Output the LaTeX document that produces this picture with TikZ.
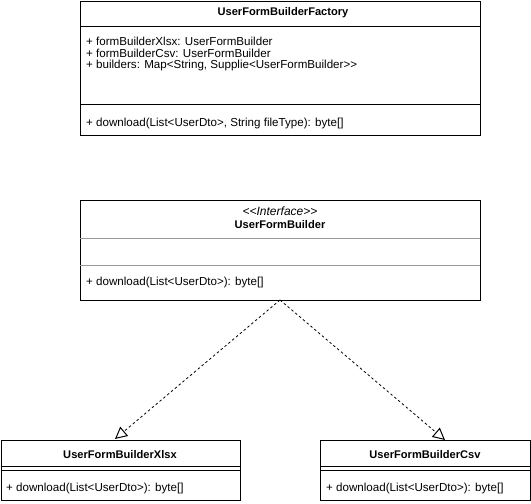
\documentclass[tikz,border=0pt]{standalone}
\usepackage{fontspec}
\setmainfont{Liberation Sans}[Ligatures=TeXOff]
\usetikzlibrary{arrows.meta}
\begin{document}
\begin{tikzpicture}[x=1pt,y=-1pt,
  box/.style={draw=black, line width=1pt, rectangle, inner sep=0pt, anchor=north west},
  title/.style={font=\fontsize{11.1}{13}\selectfont\bfseries, inner sep=0pt},
  stereo/.style={font=\fontsize{12}{14}\selectfont\itshape, inner sep=0pt},
  member/.style={font=\fontsize{11.6}{13}\selectfont, inner sep=0pt, anchor=west},
  sep/.style={line width=1pt, draw=black},
  lightsep/.style={line width=1pt, draw=black!40},
  realize/.style={line width=0.8pt, dash pattern=on 2.5pt off 2.5pt,
    -{Triangle[open, length=12pt, width=12pt, line width=1pt]}}
]
\useasboundingbox (0,0) rectangle (531,504);

% UserFormBuilderFactory
\node[box, minimum width=400pt, minimum height=134pt] (factory) at (80,0.5) {};
\node[title] (factoryname) at (283,13) {UserFormBuilderFactory};
\draw[sep] (80,26) -- (480,26);
\node[member] (fattr1) at (86,41) {+ formBuilderXlsx: UserFormBuilder};
\node[member] (fattr2) at (86,53) {+ formBuilderCsv: UserFormBuilder};
\node[member] (fattr3) at (86,65) {+ builders: Map<String, Supplie<UserFormBuilder>>};
\draw[sep] (80,104) -- (480,104);
\node[member] (fop) at (86,123) {+ download(List<UserDto>, String fileType): byte[]};

% UserFormBuilder interface
\node[box, minimum width=400pt, minimum height=100pt] (iface) at (80,200) {};
\node[stereo] (ifacestereo) at (280,211) {<<Interface>>};
\node[title] (ifacename) at (280,225) {UserFormBuilder};
\draw[lightsep] (80,238) -- (480,238);
\draw[lightsep] (80,265) -- (480,265);
\node[member] (iop) at (86,282) {+ download(List<UserDto>): byte[]};

% UserFormBuilderXlsx
\node[box, minimum width=239.5pt, minimum height=60pt] (xlsx) at (0.5,440) {};
\node[title] (xlsxname) at (120,455) {UserFormBuilderXlsx};
\draw[sep] (0.5,466) -- (240,466);
\draw[sep] (0.5,470) -- (240,470);
\node[member] (xop) at (6,488) {+ download(List<UserDto>): byte[]};

% UserFormBuilderCsv
\node[box, minimum width=210pt, minimum height=60pt] (csv) at (320,440) {};
\node[title] (csvname) at (425,455) {UserFormBuilderCsv};
\draw[sep] (320,466) -- (530,466);
\draw[sep] (320,470) -- (530,470);
\node[member] (cop) at (326,488) {+ download(List<UserDto>): byte[]};

% realization arrows
\coordinate (apex) at (280,300);
\coordinate (xlsxtip) at (115,439);
\coordinate (csvtip) at (445,440);
\draw[realize] (apex) -- (xlsxtip);
\draw[realize] (apex) -- (csvtip);
\end{tikzpicture}
\end{document}
